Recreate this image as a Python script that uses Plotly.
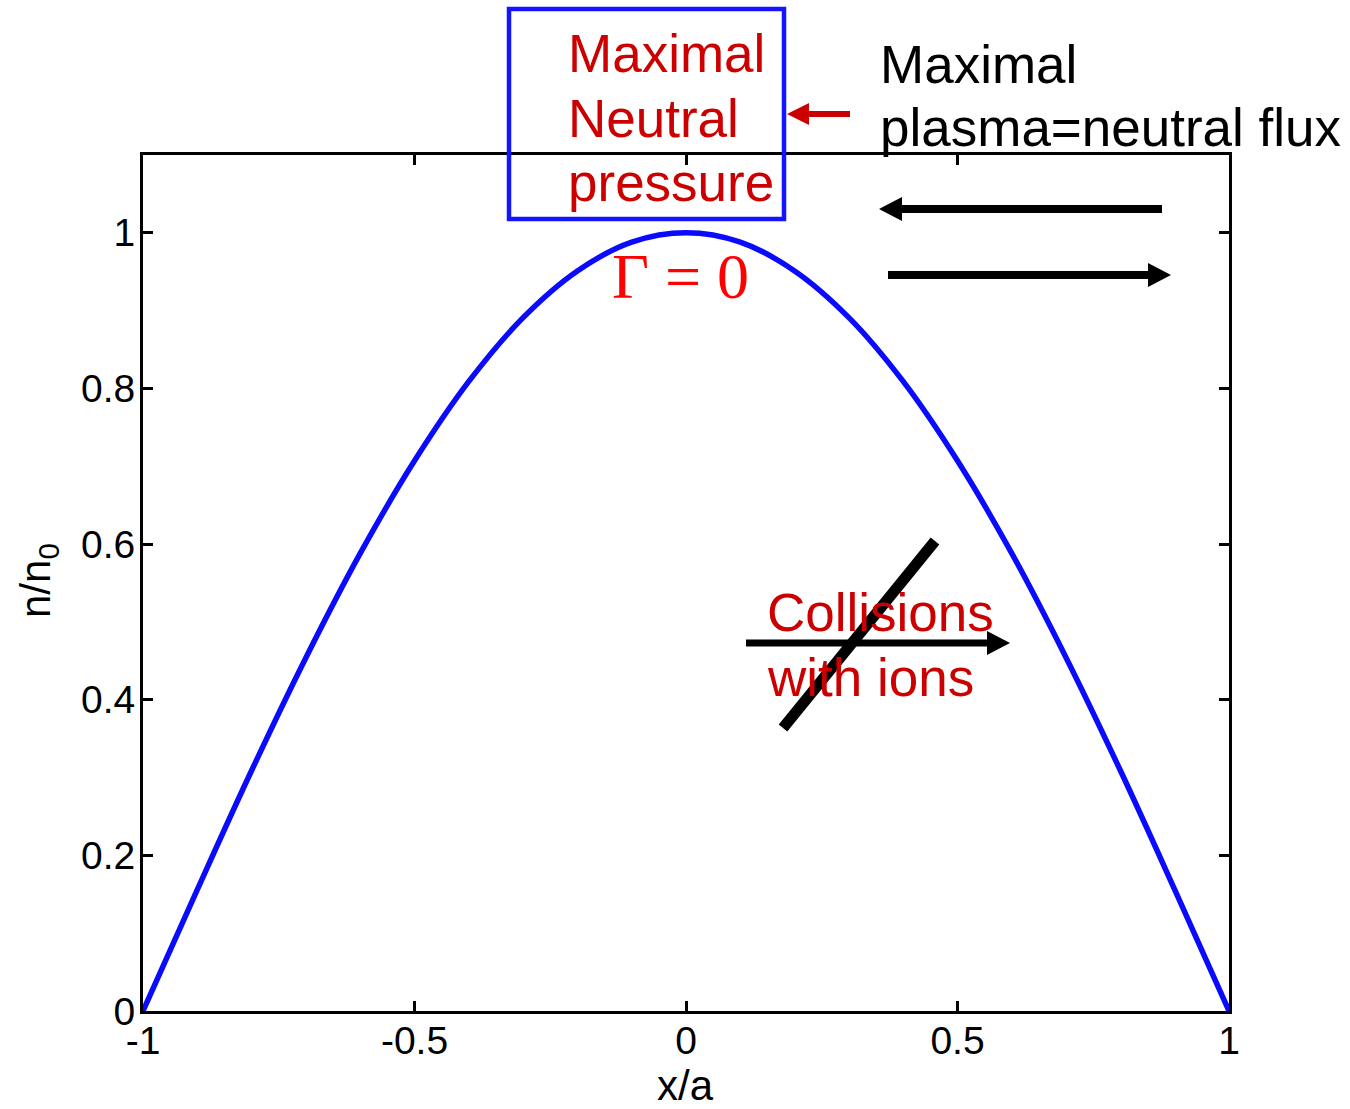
import plotly.graph_objects as go

# Normalised density profile n/n0 across the slab, x/a from -1 to 1
x_over_a = [-1.0, -0.9, -0.8, -0.7, -0.6, -0.5, -0.4, -0.3, -0.2, -0.1, 0.0,
            0.1, 0.2, 0.3, 0.4, 0.5, 0.6, 0.7, 0.8, 0.9, 1.0]
n_over_n0 = [0.0, 0.156, 0.309, 0.454, 0.588, 0.707, 0.809, 0.891, 0.951, 0.988, 1.0,
             0.988, 0.951, 0.891, 0.809, 0.707, 0.588, 0.454, 0.309, 0.156, 0.0]

x_ticks = [-1, -0.5, 0, 0.5, 1]
x_tick_text = ["-1", "-0.5", "0", "0.5", "1"]
y_ticks = [0, 0.2, 0.4, 0.6, 0.8, 1.0]
y_tick_text = ["0", "0.2", "0.4", "0.6", "0.8", "1"]

W, H = 1350, 1109
L, R, T, B = 143, 121, 155, 98
PW, PH = W - L - R, H - T - B

SANS = "Liberation Sans, Arial, sans-serif"
SERIF = "Liberation Serif, Times New Roman, serif"
DARK_RED = "#cc0000"
BLUE = "#1414ff"


def px(xp):
    """figure pixel column -> paper x"""
    return (xp - L) / PW


def py(yp):
    """figure pixel row -> paper y"""
    return (H - B - yp) / PH


fig = go.Figure()
fig.add_trace(go.Scatter(
    x=x_over_a, y=n_over_n0, mode="lines",
    line=dict(color="#0a0aff", width=5.5, shape="spline", smoothing=1.0),
    hoverinfo="skip", showlegend=False,
))

shapes = []
annotations = []


def arrow(x0, x1, yc, width, head_len, head_half, color):
    """horizontal arrow from x0 (tail) to x1 (tip) at row yc, in pixels"""
    d = 1 if x1 > x0 else -1
    base = x1 - d * head_len
    shapes.append(dict(type="line", xref="paper", yref="paper",
                       x0=px(x0), y0=py(yc), x1=px(base + d * 1), y1=py(yc),
                       line=dict(color=color, width=width)))
    path = "M {} {} L {} {} L {} {} Z".format(
        px(x1), py(yc), px(base), py(yc - head_half), px(base), py(yc + head_half))
    shapes.append(dict(type="path", xref="paper", yref="paper", path=path,
                       fillcolor=color, line=dict(color=color, width=0)))


def label(text, xp, yp, color, size=53, family=SANS, xanchor="left", angle=0):
    annotations.append(dict(text=text, xref="paper", yref="paper",
                            x=px(xp), y=py(yp), xanchor=xanchor, yanchor="middle",
                            showarrow=False, textangle=angle,
                            font=dict(family=family, size=size, color=color)))


# Box around the neutral-pressure note
shapes.append(dict(type="rect", xref="paper", yref="paper",
                   x0=px(509), y0=py(9), x1=px(784), y1=py(219),
                   line=dict(color=BLUE, width=4.5), fillcolor="rgba(0,0,0,0)"))
label("Maximal", 566, 54, DARK_RED)
label("Neutral", 566, 119, DARK_RED)
label("pressure", 566, 182, DARK_RED)
arrow(850, 787, 114, 6, 22, 11, DARK_RED)

# Flux note with opposing arrows
label("Maximal", 878, 64, "black")
label("plasma=neutral flux", 878, 127, "black")
arrow(1162, 879, 209, 8, 23, 12, "black")
arrow(888, 1171, 275, 8, 23, 12, "black")

# Zero flux at the centre
label("\u0393 = 0", 680, 276, "#ff0000", size=64, family=SERIF, xanchor="center")

# Crossed-out ion collisions
label("Collisions", 765, 612, DARK_RED)
label("with ions", 765, 677, DARK_RED)
arrow(746, 1010, 643, 7, 23, 12, "black")
shapes.append(dict(type="line", xref="paper", yref="paper",
                   x0=px(783), y0=py(728), x1=px(935), y1=py(541),
                   line=dict(color="black", width=11)))

# Axis titles
label("x/a", 685, 1085, "black", size=42, xanchor="center")
label("n/n<sub>0</sub>", 38, 581, "black", size=42, xanchor="center", angle=-90)

axis_common = dict(
    showgrid=False, zeroline=False, showline=True, mirror="ticks",
    linecolor="black", linewidth=3, ticks="inside", ticklen=10, tickwidth=3,
    tickcolor="black", tickfont=dict(family=SANS, size=39, color="black"),
)

fig.update_layout(
    width=W, height=H,
    margin=dict(l=L, r=R, t=T, b=B, autoexpand=False),
    paper_bgcolor="white", plot_bgcolor="white",
    xaxis=dict(range=[-1, 1], tickvals=x_ticks, ticktext=x_tick_text,
               ticklabelstandoff=-7, **axis_common),
    yaxis=dict(range=[0, 1.1], tickvals=y_ticks, ticktext=y_tick_text,
               ticklabelstandoff=-3, **axis_common),
    shapes=shapes,
    annotations=annotations,
)

fig.write_html("out.html")
